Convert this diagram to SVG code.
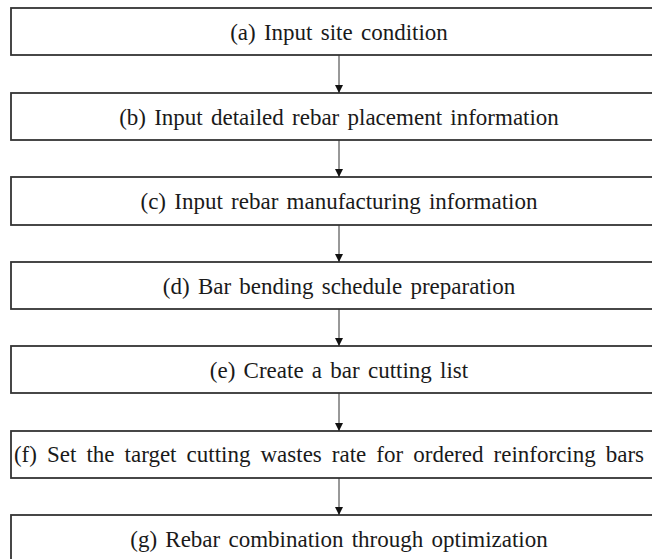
<svg xmlns="http://www.w3.org/2000/svg" width="652" height="559" viewBox="0 0 652 559">
  <style>
    .box { fill: #ffffff; stroke: #333333; stroke-width: 1.8; }
    .label { font-family: "Liberation Serif", "Times New Roman", serif; font-size: 23px; fill: #1a1a1a; text-anchor: middle; word-spacing: 2.5px; }
    .wide { word-spacing: 4.3px; }
    .link { stroke: #333333; stroke-width: 1; fill: none; marker-end: url(#head); }
  </style>
  <defs>
    <marker id="head" viewBox="0 0 8 10" refX="8" refY="5" markerWidth="8" markerHeight="10" markerUnits="userSpaceOnUse" orient="auto">
      <path d="M0,1 L8,5 L0,9 Z" fill="#111111"/>
    </marker>
  </defs>
  <rect width="652" height="559" fill="#ffffff"/>

  <g id="step-a">
    <rect class="box" x="11" y="8" width="660" height="47"/>
    <text class="label" x="339" y="40">(a) Input site condition</text>
  </g>
  <g id="step-b">
    <rect class="box" x="11" y="93" width="660" height="47"/>
    <text class="label" x="339" y="125">(b) Input detailed rebar placement information</text>
  </g>
  <g id="step-c">
    <rect class="box" x="11" y="177" width="660" height="48"/>
    <text class="label" x="339" y="209">(c) Input rebar manufacturing information</text>
  </g>
  <g id="step-d">
    <rect class="box" x="11" y="262" width="660" height="47"/>
    <text class="label" x="339" y="294">(d) Bar bending schedule preparation</text>
  </g>
  <g id="step-e">
    <rect class="box" x="11" y="346" width="660" height="47"/>
    <text class="label" x="339" y="378">(e) Create a bar cutting list</text>
  </g>
  <g id="step-f">
    <rect class="box" x="11" y="431" width="660" height="47"/>
    <text class="label wide" x="329" y="462">(f) Set the target cutting wastes rate for ordered reinforcing bars</text>
  </g>
  <g id="step-g">
    <rect class="box" x="11" y="515" width="660" height="60"/>
    <text class="label" x="339" y="547">(g) Rebar combination through optimization</text>
  </g>

  <g id="connectors">
    <line class="link" x1="339" y1="55" x2="339" y2="93"/>
    <line class="link" x1="339" y1="140" x2="339" y2="177"/>
    <line class="link" x1="339" y1="225" x2="339" y2="262"/>
    <line class="link" x1="339" y1="309" x2="339" y2="346"/>
    <line class="link" x1="339" y1="393" x2="339" y2="431"/>
    <line class="link" x1="339" y1="478" x2="339" y2="515"/>
  </g>
</svg>
